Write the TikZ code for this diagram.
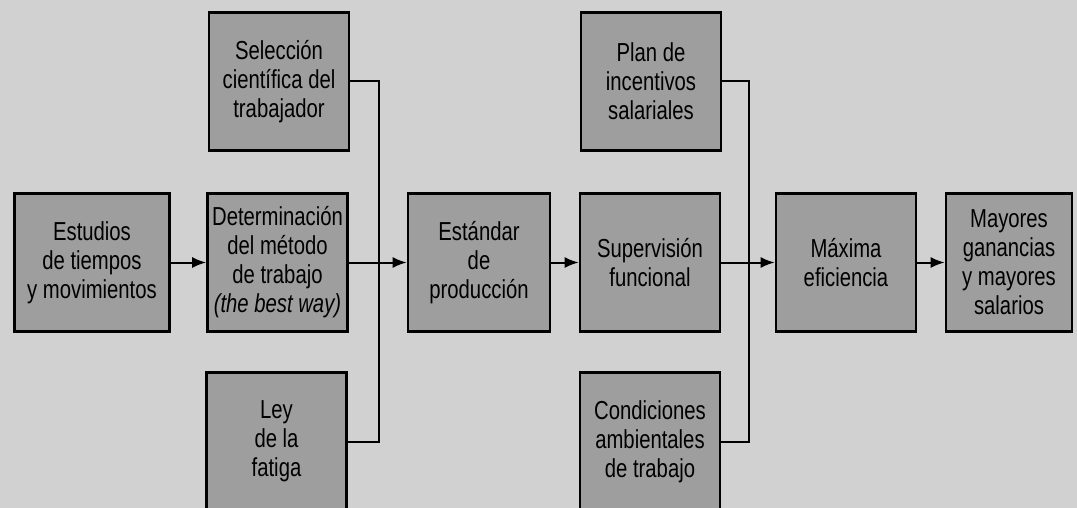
\documentclass[tikz,border=0pt]{standalone}
\usepackage{fontspec}
\setmainfont[FakeStretch=0.78]{Liberation Sans}
\usetikzlibrary{arrows.meta}

\begin{document}
\begin{tikzpicture}[x=0.5pt,y=-0.5pt,
    caja/.style={draw,line width=1.3pt,fill=black!38,align=center,inner sep=0pt,
      minimum width=70pt,minimum height=69pt,font=\fontsize{13}{14.5}\selectfont},
    flecha/.style={line width=1pt,-{Latex[length=7pt,width=5.5pt]}},
    linea/.style={line width=1pt}]
      \useasboundingbox[fill=black!18] (0,0) rectangle (1077,508);
      \node[caja,minimum width=77.5pt] (est) at (92,262.5) {Estudios\\de tiempos\\y movimientos};
      \node[caja] (sel) at (279,81.5) {Selección\\científica del\\trabajador};
      \node[caja] (det) at (277.5,262.5) {Determinación\\del método\\de trabajo\\\textit{(the best way)}};
      \node[caja] (ley) at (276.5,441.5) {Ley\\de la\\fatiga};
      \node[caja,minimum width=71pt] (std) at (479,262.5) {Estándar\\de\\producción};
      \node[caja] (plan) at (651,81.5) {Plan de\\incentivos\\salariales};
      \node[caja] (sup) at (650,262.5) {Supervisión\\funcional};
      \node[caja] (cond) at (650,441.5) {Condiciones\\ambientales\\de trabajo};
      \node[caja] (max) at (846,262.5) {Máxima\\eficiencia};
      \node[caja,minimum width=63pt] (may) at (1009,262.5) {Mayores\\ganancias\\y mayores\\salarios};
      \coordinate (j1) at (379,262.5);
      \coordinate (j2) at (749,262.5);
      \draw[linea] (sel.east) -| (j1);
      \draw[linea] (ley.east) -| (j1);
      \draw[linea] (plan.east) -| (j2);
      \draw[linea] (cond.east) -| (j2);
      \draw[flecha] (est) -- (det);
      \draw[flecha] (det) -- (std);
      \draw[flecha] (std) -- (sup);
      \draw[flecha] (sup) -- (max);
      \draw[flecha] (max) -- (may);
    \end{tikzpicture}
\end{document}
